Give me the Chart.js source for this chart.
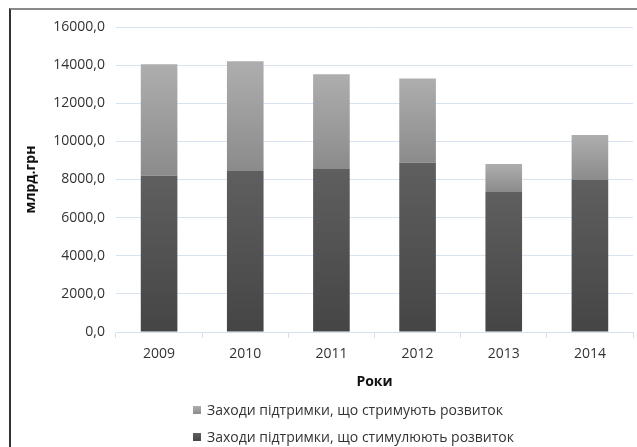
<!DOCTYPE html>
<html><head><meta charset="utf-8">
<script src="https://cdn.jsdelivr.net/npm/chart.js@4"></script>
<style>
html,body{margin:0;padding:0;background:#fff;}
#wrap{position:relative;width:637px;height:447px;overflow:hidden;}
#frame{position:absolute;left:9px;top:8px;right:-10px;bottom:-10px;border-left:2px solid #333;border-top:2px solid #8a8a8a;pointer-events:none;}
#legend{position:absolute;left:193px;top:0;font-family:'Open Sans';font-size:14px;color:#333;}
.li{position:absolute;left:0;white-space:nowrap;display:flex;align-items:center;height:18px;line-height:18px;}
.sw{width:8px;height:8px;margin-right:6px;}
</style></head>
<body><div id="wrap"><canvas id="c"></canvas><div id="frame"></div><div id="legend"></div></div>
<script>
const categories = ['2009', '2010', '2011', '2012', '2013', '2014'];
const stimulating = [8200, 8450, 8550, 8880, 7350, 7975];
const restraining = [5850, 5750, 4975, 4420, 1460, 2355];
const seriesNames = ['Заходи підтримки, що стримують розвиток', 'Заходи підтримки, що стимулюють розвиток'];
const yTitle = 'млрд.грн';
const xTitle = 'Роки';

const LIGHT = ['#aeaeae', '#8b8b8b'];
const DARK = ['#5f5f5f', '#454545'];

function barGradient(c, light) {
  const chart = c.chart;
  const y = chart.scales && chart.scales.y;
  const cols = light ? LIGHT : DARK;
  if (!chart.chartArea || !y || c.dataIndex === undefined) return cols[1];
  const i = c.dataIndex;
  const base = light ? stimulating[i] : 0;
  const top = base + (light ? restraining[i] : stimulating[i]);
  const y0 = y.getPixelForValue(top), y1 = y.getPixelForValue(base);
  if (!isFinite(y0) || !isFinite(y1) || y0 === y1) return cols[1];
  const g = chart.ctx.createLinearGradient(0, y0, 0, y1);
  g.addColorStop(0, cols[0]);
  g.addColorStop(1, cols[1]);
  return g;
}

const tickFont = {family: 'Open Sans', size: 14};
const titleFont = {family: 'Open Sans', size: 14, weight: 'bold'};

new Chart(document.getElementById('c'), {
  type: 'bar',
  data: {
    labels: categories,
    datasets: [
      {label: seriesNames[1], data: stimulating, backgroundColor: c => barGradient(c, false), categoryPercentage: 1, barPercentage: 0.425, stack: 's'},
      {label: seriesNames[0], data: restraining, backgroundColor: c => barGradient(c, true), categoryPercentage: 1, barPercentage: 0.425, stack: 's'}
    ]
  },
  options: {
    responsive: true,
    maintainAspectRatio: false,
    animation: false,
    layout: {padding: {top: 27, right: 4, left: 0, bottom: 0}},
    plugins: {legend: {display: false}, tooltip: {enabled: false}},
    scales: {
      x: {
        stacked: true,
        grid: {display: true, drawOnChartArea: false, color: '#d3e0f0', tickLength: 6, offset: true},
        border: {color: '#d3e0f0', width: 1},
        ticks: {font: tickFont, color: '#333', padding: 8},
        title: {display: true, text: xTitle, font: titleFont, color: '#111', padding: {top: 0, bottom: 57}},
        afterFit(s) { s.height = 115; }
      },
      y: {
        stacked: true,
        min: 0, max: 16000,
        ticks: {stepSize: 2000, font: tickFont, color: '#333', padding: 11,
          callback: v => Number(v).toFixed(1).replace('.', ',')},
        grid: {color: '#d8e3f2', drawTicks: false},
        border: {display: false},
        title: {display: true, text: yTitle, font: titleFont, color: '#111', padding: {top: 23, bottom: 0}},
        afterFit(s) { s.width = 116; }
      }
    }
  }
});

const legend = document.getElementById('legend');
const swatches = ['linear-gradient(#aeaeae,#8b8b8b)', 'linear-gradient(#5f5f5f,#454545)'];
const tops = [401, 428];
seriesNames.forEach((n, k) => {
  const d = document.createElement('div');
  d.className = 'li';
  d.style.top = tops[k] + 'px';
  const s = document.createElement('span');
  s.className = 'sw';
  s.style.background = swatches[k];
  const t = document.createElement('span');
  t.textContent = n;
  d.appendChild(s); d.appendChild(t);
  legend.appendChild(d);
});
</script>
</body></html>
